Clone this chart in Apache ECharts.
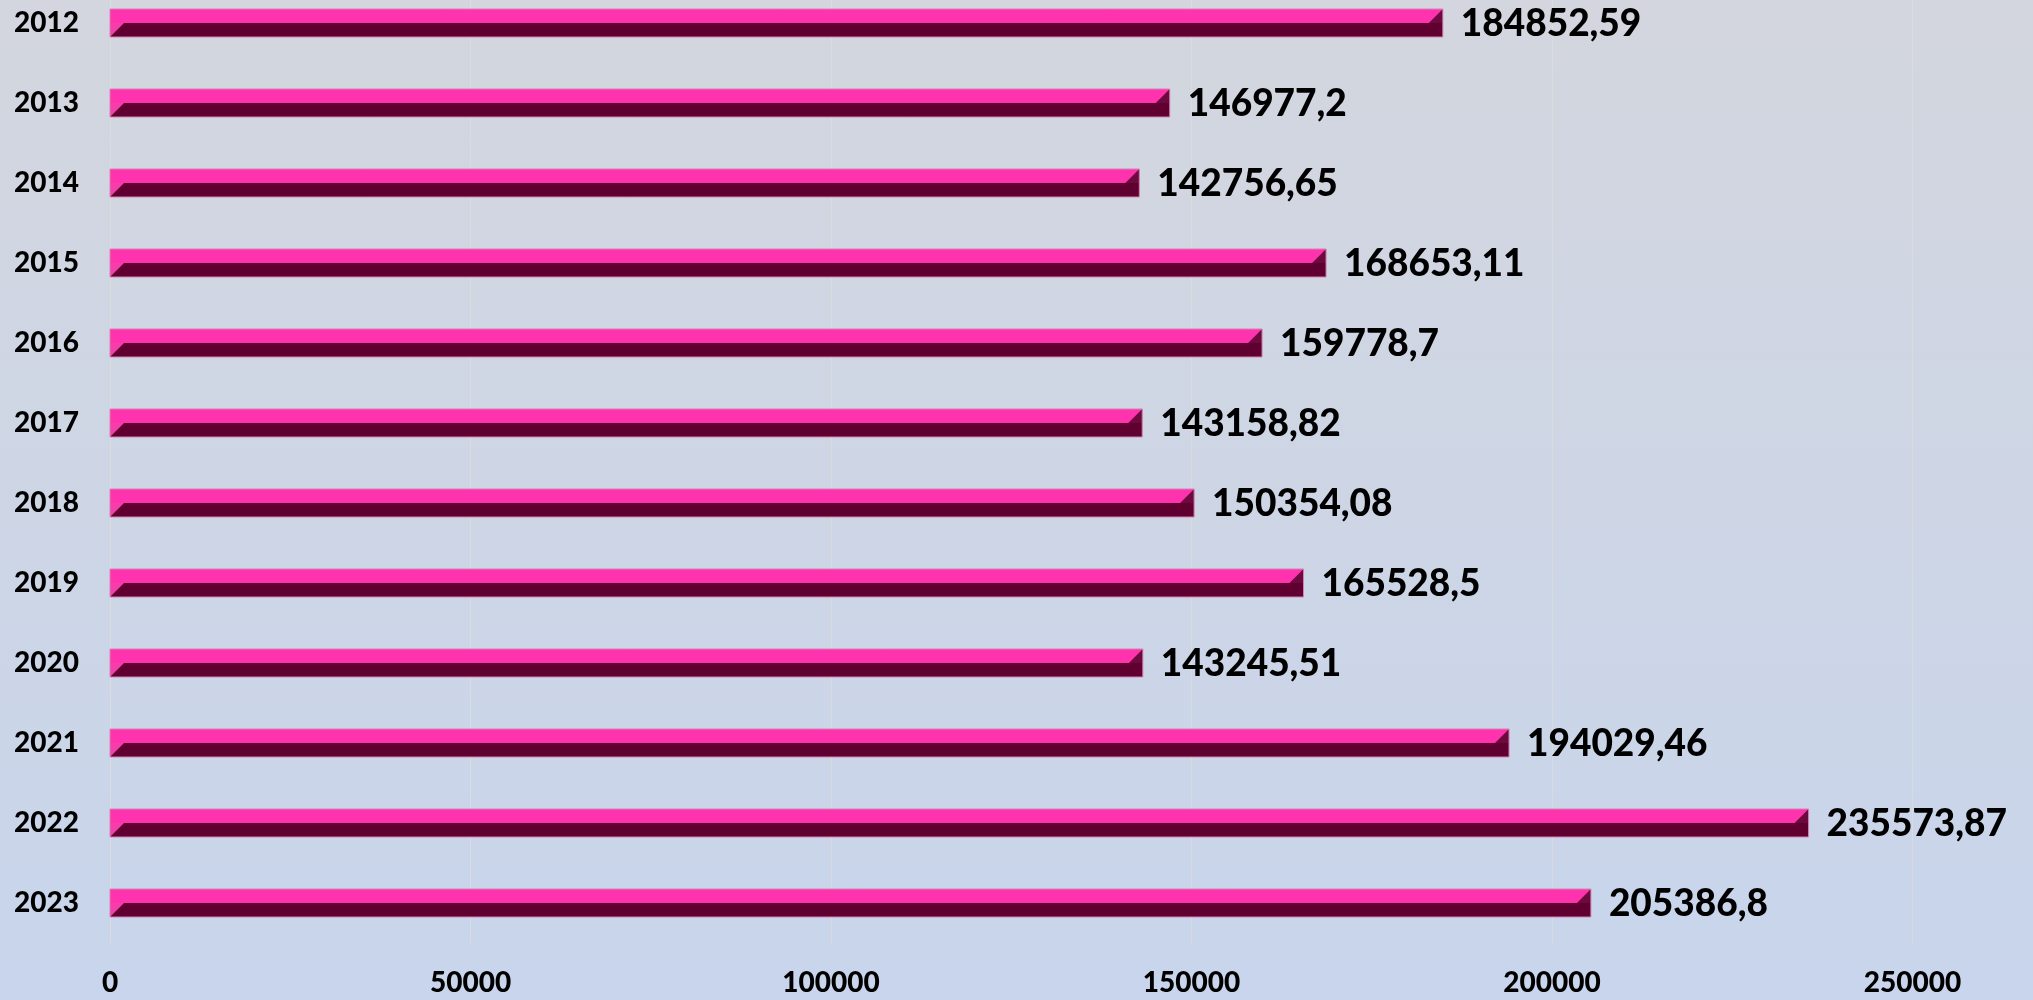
<!DOCTYPE html>
<html>
<head>
<meta charset="utf-8">
<script src="https://cdn.jsdelivr.net/npm/echarts@6/dist/echarts.min.js"></script>
<style>
  html, body { margin: 0; padding: 0; }
  #chart { width: 2033px; height: 1000px; }
</style>
</head>
<body>
<div id="chart"></div>
<script>
var years = ["2012", "2013", "2014", "2015", "2016", "2017", "2018", "2019", "2020", "2021", "2022", "2023"];
var amounts = [184852.59, 146977.2, 142756.65, 168653.11, 159778.7, 143158.82, 150354.08, 165528.5, 143245.51, 194029.46, 235573.87, 205386.8];
var xTicks = [0, 50000, 100000, 150000, 200000, 250000];

var FONT = "Lato, 'Open Sans', sans-serif";

function fmt(v) {
  return String(v).replace(".", ",");
}

function drawBar(params, api) {
  var idx = api.value(0);
  var v = api.value(1);
  var start = api.coord([0, idx]);
  var end = api.coord([v, idx]);
  var band = api.size([0, 1])[1];
  var h = band * 0.35;
  var x0 = start[0], x1 = end[0], yc = start[1];
  var top = yc - h / 2, mid = yc, bottom = yc + h / 2;
  var d = h / 2;
  return {
    type: "group",
    children: [
      { type: "rect", shape: { x: x0, y: top, width: x1 - x0, height: h / 2 }, style: { fill: "#ff33ad" } },
      { type: "rect", shape: { x: x0, y: mid, width: x1 - x0, height: h / 2 }, style: { fill: "#600030" } },
      { type: "polygon", shape: { points: [[x0, mid], [x0 + d, mid], [x0, bottom]] }, style: { fill: "#f23fa9" } },
      { type: "polygon", shape: { points: [[x1, top], [x1, mid], [x1 - d, mid]] }, style: { fill: "#6c0a3d" } },
      { type: "rect", shape: { x: x0, y: top, width: x1 - x0, height: h }, style: { fill: "none", stroke: "#d682b4", lineWidth: 1 } },
      {
        type: "text",
        x: x1 + 18,
        y: yc + 1,
        style: {
          text: fmt(amounts[idx]),
          fontFamily: FONT,
          fontWeight: 900,
          fontSize: 37,
          fill: "#000",
          align: "left",
          verticalAlign: "middle"
        }
      }
    ]
  };
}

var chart = echarts.init(document.getElementById("chart"));
var option = {
  animation: false,
  backgroundColor: {
    type: "linear", x: 0, y: 0, x2: 0, y2: 1,
    colorStops: [
      { offset: 0, color: "#d3d6de" },
      { offset: 1, color: "#c8d5ec" }
    ]
  },
  grid: {
    left: 110,
    right: 0,
    top: -17,
    bottom: 57,
    containLabel: false,
    outerBoundsMode: "none"
  },
  xAxis: {
    type: "value",
    min: 0,
    max: 266700,
    interval: 50000,
    axisLine: { show: false },
    axisTick: { show: false },
    splitLine: {
      show: true,
      showMaxLine: false,
      lineStyle: { color: "#dadbdd", width: 1 }
    },
    axisLabel: {
      showMaxLabel: false,
      margin: 26,
      color: "#000",
      fontFamily: FONT,
      fontWeight: 900,
      fontSize: 28,
      formatter: function (v) {
        return xTicks.indexOf(v) >= 0 ? String(v) : "";
      }
    }
  },
  yAxis: {
    type: "category",
    inverse: true,
    data: years,
    axisLine: { show: false },
    axisTick: { show: false },
    axisLabel: {
      margin: 31,
      color: "#000",
      fontFamily: FONT,
      fontWeight: 900,
      fontSize: 28
    }
  },
  series: [
    {
      type: "custom",
      renderItem: drawBar,
      encode: { x: 1, y: 0 },
      data: amounts.map(function (v, i) { return [i, v]; })
    }
  ]
};
chart.setOption(option);
</script>
</body>
</html>
